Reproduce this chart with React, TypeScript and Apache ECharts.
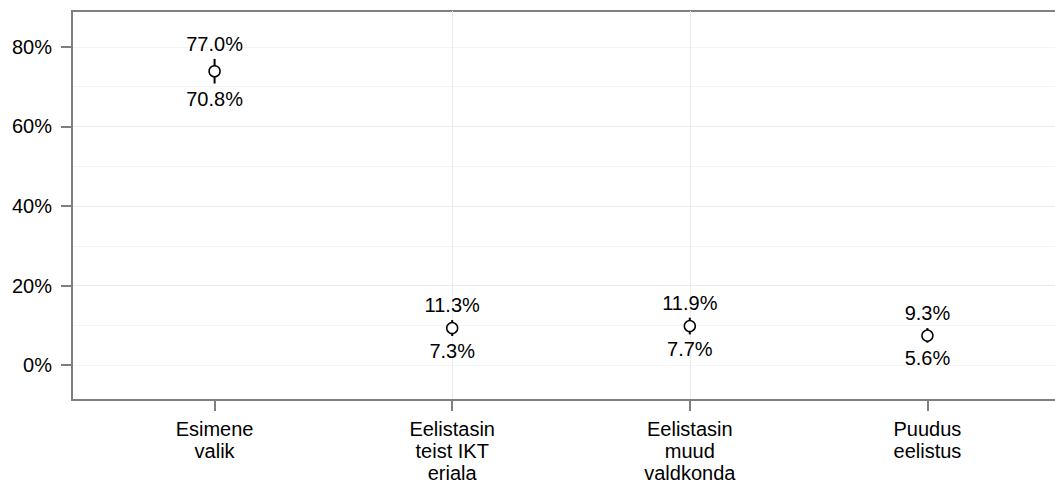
import React, { useEffect, useRef } from "react";
import * as echarts from "echarts";

const categories = [
  "Esimene\nvalik",
  "Eelistasin\nteist IKT\neriala",
  "Eelistasin\nmuud\nvaldkonda",
  "Puudus\neelistus",
];
const estimate = [73.9, 9.3, 9.8, 7.4];
const lower = [70.8, 7.3, 7.7, 5.6];
const upper = [77.0, 11.3, 11.9, 9.3];
const yTickValues = [0, 20, 40, 60, 80];

const FONT = "'Liberation Sans', Arial, sans-serif";
const AXIS_GREY = "#7f7f7f";

export default function App() {
  const ref = useRef<HTMLDivElement>(null);
  useEffect(() => {
    if (!ref.current) return;
    const chart = echarts.init(ref.current, undefined, { renderer: "svg" });
    const xs = categories.map((_, i) => i + 1);
    const yMin = -8.8;
    const yMax = 89.05;
    const option: any = {
      animation: false,
      backgroundColor: "#fff",
      textStyle: { fontFamily: FONT },
      grid: {
        left: 72,
        top: 11,
        width: 998,
        height: 389,
        show: true,
        borderColor: AXIS_GREY,
        borderWidth: 2,
        backgroundColor: "transparent",
        containLabel: false,
        outerBoundsMode: "none",
      },
      xAxis: {
        type: "value",
        min: 0.4,
        max: 4.6,
        minInterval: 1,
        maxInterval: 1,
        axisLine: { show: true, onZero: false, lineStyle: { color: AXIS_GREY, width: 2 } },
        axisTick: {
          show: true,
          length: 11,
          customValues: xs,
          lineStyle: { color: AXIS_GREY, width: 2 },
        },
        axisLabel: {
          customValues: xs,
          formatter: (v: number) => {
            const i = Math.round(v) - 1;
            return Math.abs(v - Math.round(v)) < 1e-6 && categories[i] ? categories[i] : "";
          },
          fontSize: 20,
          lineHeight: 22,
          color: "#000",
          margin: 18,
          fontFamily: FONT,
        },
        splitLine: {
          show: true,
          showMinLine: false,
          showMaxLine: false,
          lineStyle: { color: "#ebebeb", width: 1 },
        },
      },
      yAxis: [
        {
          type: "value",
          min: yMin,
          max: yMax,
          minInterval: 10,
          maxInterval: 10,
          splitNumber: 10,
          axisLine: { show: false, onZero: false },
          axisTick: { show: false },
          axisLabel: { show: false },
          splitLine: {
            show: true,
            showMinLine: false,
            showMaxLine: false,
            lineStyle: { color: "#f4f4f4", width: 1 },
          },
        },
        {
          type: "value",
          position: "left",
          min: yMin,
          max: yMax,
          minInterval: 20,
          maxInterval: 20,
          splitNumber: 5,
          axisLine: { show: true, onZero: false, lineStyle: { color: AXIS_GREY, width: 2 } },
          axisTick: {
            show: true,
            length: 11,
            customValues: yTickValues,
            lineStyle: { color: AXIS_GREY, width: 2 },
          },
          axisLabel: {
            customValues: yTickValues,
            formatter: (v: number) =>
              yTickValues.some((t) => Math.abs(t - v) < 1e-6) ? `${Math.round(v)}%` : "",
            fontSize: 20,
            color: "#000",
            margin: 20,
            fontFamily: FONT,
          },
          splitLine: {
            show: true,
            showMinLine: false,
            showMaxLine: false,
            lineStyle: { color: "#ebebeb", width: 1 },
          },
        },
      ],
      series: [
        {
          type: "custom",
          xAxisIndex: 0,
          yAxisIndex: 1,
          clip: false,
          z: 5,
          encode: { x: 0, y: [1, 2, 3] },
          data: xs.map((x, i) => [x, estimate[i], lower[i], upper[i]]),
          renderItem: (params: any, api: any) => {
            const x = api.value(0);
            const lv = api.value(2);
            const uv = api.value(3);
            const p = api.coord([x, api.value(1)]);
            const lo = api.coord([x, lv]);
            const hi = api.coord([x, uv]);
            const textStyle = {
              fill: "#000",
              fontSize: 20,
              fontFamily: FONT,
              align: "center",
              verticalAlign: "middle",
            };
            return {
              type: "group",
              children: [
                {
                  type: "line",
                  shape: { x1: lo[0], y1: lo[1], x2: hi[0], y2: hi[1] },
                  style: { stroke: "#000", lineWidth: 2 },
                },
                {
                  type: "circle",
                  shape: { cx: p[0], cy: p[1], r: 5.5 },
                  style: { fill: "#fff", stroke: "#000", lineWidth: 1.5 },
                },
                {
                  type: "text",
                  x: hi[0],
                  y: hi[1] - 15,
                  style: { ...textStyle, text: `${uv.toFixed(1)}%` },
                },
                {
                  type: "text",
                  x: lo[0],
                  y: lo[1] + 15,
                  style: { ...textStyle, text: `${lv.toFixed(1)}%` },
                },
              ],
            };
          },
        },
      ],
    };
    chart.setOption(option);
    return () => chart.dispose();
  }, []);
  return (
    <div
      ref={ref}
      style={{ position: "fixed", left: 0, top: 0, width: 1055, height: 484, background: "#fff" }}
    />
  );
}
